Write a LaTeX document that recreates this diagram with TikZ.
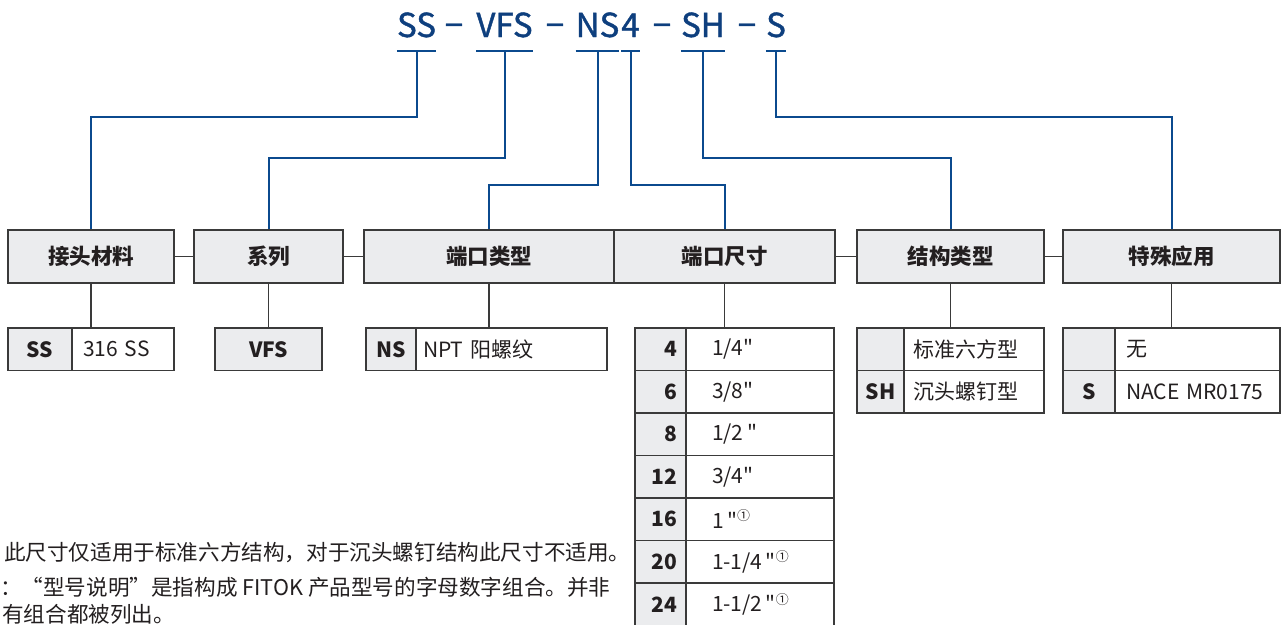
\documentclass[tikz,border=0pt]{standalone}
\usepackage{fontspec}
\setmainfont{Noto Sans CJK SC}[Ligatures=TeXOff]
\newfontfamily\ttlfont{Noto Sans CJK SC}[FakeBold=1.2, Ligatures=TeXOff]
\definecolor{bluel}{HTML}{0B4A8E}
\definecolor{bluet}{HTML}{0E3F7E}
\definecolor{gbox}{HTML}{EBECEE}
\definecolor{bord}{HTML}{3A3A3A}
\definecolor{txt}{HTML}{231F20}
\newcommand{\fnmark}{\textsuperscript{\fontsize{13}{13}\selectfont ①}}
\begin{document}
\begin{tikzpicture}[x=1pt,y=-1pt,
  ttl/.style={inner sep=0pt, anchor=base, text=bluet, font=\ttlfont\fontsize{33}{38}\selectfont},
  bl/.style={draw=bluel, line width=2pt},
  ul/.style={draw=bluel, line width=2.7pt},
  kl/.style={draw=bord, line width=1.5pt},
  hdr/.style={draw=bord, fill=gbox, line width=1.5pt, minimum height=53pt, inner sep=0pt, text=txt, font=\fontsize{21.5}{24}\selectfont\bfseries},
  codec/.style={draw=bord, fill=gbox, line width=1.5pt, minimum height=42.5pt, inner ysep=0pt, text=txt, font=\fontsize{21}{24}\selectfont\bfseries},
  valc/.style={draw=bord, fill=white, line width=1.5pt, minimum height=42.5pt, inner ysep=0pt, align=left, text=txt, font=\fontsize{21}{24}\selectfont},
  note/.style={anchor=west, inner sep=0pt, text=txt, font=\fontsize{21.6}{24}\selectfont}
]
\useasboundingbox (0,0) rectangle (1285,624);
\fill[white] (0,0) rectangle (1285,624);

% title
\node[ttl] (tSS) at (416.5,37) {SS};
\node[ttl] (d1) at (454,37) {−};
\node[ttl] (tVFS) at (504.5,37) {VFS};
\node[ttl] (d2) at (555,37) {−};
\node[ttl] (tNS) at (597.5,37) {NS};
\node[ttl] (t4) at (630.5,37) {4};
\node[ttl] (d3) at (662,37) {−};
\node[ttl] (tSH) at (703,37) {SH};
\node[ttl] (d4) at (747,37) {−};
\node[ttl] (tS) at (776,37) {S};

\coordinate (u) at (0,51);
\coordinate (y117) at (0,117);
\coordinate (y158) at (0,158);
\coordinate (y185) at (0,185);

\foreach \n in {tSS,tVFS,tNS,t4,tSH,tS}
  \draw[ul] (\n.west |- u) -- (\n.east |- u);

% header boxes
\node[hdr, minimum width=166pt] (b1) at (91,256.5) {接头材料};
\node[hdr, minimum width=149pt] (b2) at (268.5,256.5) {系列};
\node[hdr, minimum width=250pt] (b3) at (489,256.5) {端口类型};
\node[hdr, minimum width=221pt] (b4) at (724.5,256.5) {端口尺寸};
\node[hdr, minimum width=187pt] (b5) at (950.5,256.5) {结构类型};
\node[hdr, minimum width=217pt] (b6) at (1171.5,256.5) {特殊应用};

\draw[kl] (b1.east) -- (b2.west);
\draw[kl] (b2.east) -- (b3.west);
\draw[kl] (b4.east) -- (b5.west);
\draw[kl] (b5.east) -- (b6.west);

% blue connectors
\draw[bl] (tSS.center |- u) -- (tSS.center |- y117) -| (b1.north);
\draw[bl] (tVFS.center |- u) -- (tVFS.center |- y158) -| (b2.north);
\draw[bl] (tNS.center |- u) -- (tNS.center |- y185) -| (b3.north);
\draw[bl] (t4.center |- u) -- (t4.center |- y185) -| (b4.north);
\draw[bl] (tSH.center |- u) -- (tSH.center |- y158) -| (b5.north);
\draw[bl] (tS.center |- u) -- (tS.center |- y117) -| (b6.north);

% sub-table 1
\node[codec, minimum width=64pt, inner xsep=0pt] (s1c) at (40,349.25) {SS};
\node[valc, text width=80pt, inner xsep=11pt] (s1v) at (123,349.25) {316 SS};
% sub-table 2
\node[codec, minimum width=107pt, inner xsep=0pt] (s2c) at (268.5,349.25) {VFS};
% sub-table 3
\node[codec, minimum width=50pt, inner xsep=0pt] (s3c) at (391,349.25) {NS};
\node[valc, text width=177pt, inner xsep=7pt] (s3v) at (511.5,349.25) {NPT 阳螺纹};
% sub-table 4
\foreach \i/\c/\v in {0/4/{1/4"},1/6/{3/8"},2/8/{1/2\,"},3/12/{3/4"},4/16/{1\,"\fnmark},5/20/{1-1/4\,"\fnmark},6/24/{1-1/2\,"\fnmark}}{
  \node[codec, text width=33pt, inner xsep=9pt, align=right] (s4c\i) at (660.5,349.25+42.5*\i) {\c};
  \node[valc, text width=96pt, inner xsep=26pt] (s4v\i) at (760,349.25+42.5*\i) {\v};
}
% sub-table 5
\node[codec, minimum width=47pt, inner xsep=0pt] (s5c0) at (880.5,349.25) {};
\node[valc, text width=122pt, inner xsep=9pt] (s5v0) at (974,349.25) {标准六方型};
\node[codec, minimum width=47pt, inner xsep=0pt] (s5c1) at (880.5,391.75) {SH};
\node[valc, text width=122pt, inner xsep=9pt] (s5v1) at (974,391.75) {沉头螺钉型};
% sub-table 6
\node[codec, minimum width=52pt, inner xsep=0pt] (s6c0) at (1089,349.25) {};
\node[valc, text width=143pt, inner xsep=11pt] (s6v0) at (1197.5,349.25) {无};
\node[codec, minimum width=52pt, inner xsep=0pt] (s6c1) at (1089,391.75) {S};
\node[valc, text width=143pt, inner xsep=11pt] (s6v1) at (1197.5,391.75) {NACE MR0175};

% black connectors
\draw[kl] (b1.south) -- (b1.south |- s1c.north);
\draw[kl] (b2.south) -- (b2.south |- s2c.north);
\draw[kl] (b3.south) -- (b3.south |- s3c.north);
\draw[kl] (b4.south) -- (b4.south |- s4v0.north);
\draw[kl] (b5.south) -- (b5.south |- s5c0.north);
\draw[kl] (b6.south) -- (b6.south |- s6c0.north);

% notes
\node[note] (n1) at (4,553) {此尺寸仅适用于标准六方结构，对于沉头螺钉结构此尺寸不适用。};
\node[note] (n2) at (0,587) {：“型号说明”是指构成 FITOK 产品型号的字母数字组合。并非};
\node[note] (n3) at (2,614) {有组合都被列出。};
\end{tikzpicture}
\end{document}
